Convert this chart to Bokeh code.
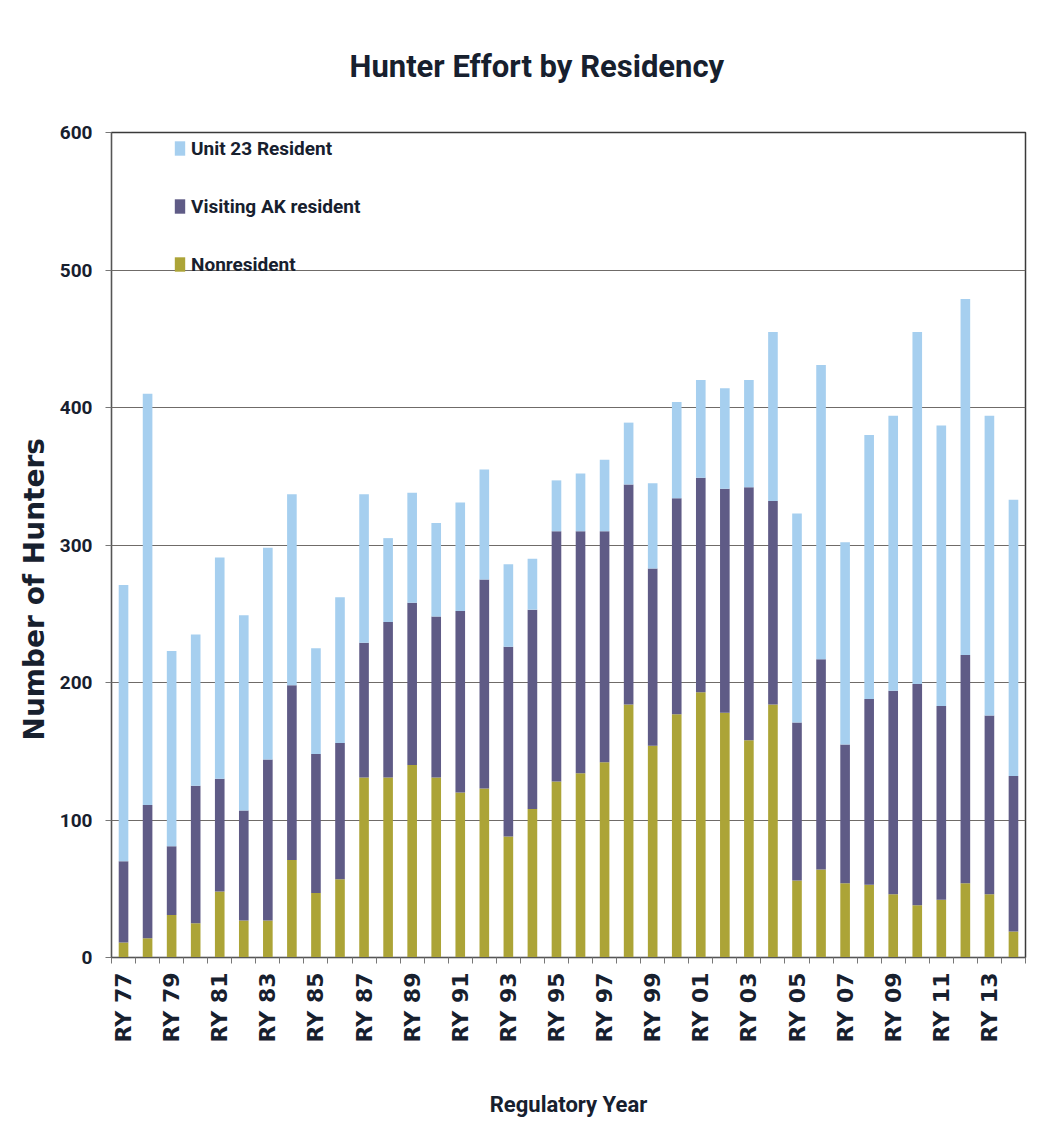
import math
from bokeh.plotting import figure
from bokeh.models import ColumnDataSource, FixedTicker, Legend, LegendItem, Range1d, Title
from bokeh.embed import file_html
from bokeh.resources import INLINE

# ---- data ----
years = ["RY 77", "RY 78", "RY 79", "RY 80", "RY 81", "RY 82", "RY 83", "RY 84", "RY 85", "RY 86",
         "RY 87", "RY 88", "RY 89", "RY 90", "RY 91", "RY 92", "RY 93", "RY 94", "RY 95", "RY 96",
         "RY 97", "RY 98", "RY 99", "RY 00", "RY 01", "RY 02", "RY 03", "RY 04", "RY 05", "RY 06",
         "RY 07", "RY 08", "RY 09", "RY 10", "RY 11", "RY 12", "RY 13", "RY 14"]
nonresident = [11, 14, 31, 25, 48, 27, 27, 71, 47, 57, 131, 131, 140, 131, 120, 123, 88, 108, 128, 134,
               142, 184, 154, 177, 193, 178, 158, 184, 56, 64, 54, 53, 46, 38, 42, 54, 46, 19]
visiting_ak = [59, 97, 50, 100, 82, 80, 117, 127, 101, 99, 98, 113, 118, 117, 132, 152, 138, 145, 182, 176,
               168, 160, 129, 157, 156, 163, 184, 148, 115, 153, 101, 135, 148, 161, 141, 166, 130, 113]
unit23_resident = [201, 299, 142, 110, 161, 142, 154, 139, 77, 106, 108, 61, 80, 68, 79, 80, 60, 37, 37, 42,
                   52, 45, 62, 70, 71, 73, 78, 123, 152, 214, 147, 192, 200, 256, 204, 259, 218, 201]
series_names = ["Nonresident", "Visiting AK resident", "Unit 23 Resident"]
y_ticks = [0, 100, 200, 300, 400, 500, 600]

colors = ["#aca437", "#5f5b86", "#a6cfef"]
NARROW = "Roboto"
TXT = "#17202e"

xs = list(range(len(years)))
source = ColumnDataSource(dict(x=xs, nonres=nonresident, visiting=visiting_ak, unit23=unit23_resident))

p = figure(width=1042, height=1129, output_backend="svg", toolbar_location=None,
           x_range=Range1d(-0.5, len(years) - 0.5), y_range=Range1d(0, 600),
           min_border_left=111, min_border_right=17, min_border_top=132, min_border_bottom=172,
           background_fill_color="white", border_fill_color="white")

renderers = p.vbar_stack(["nonres", "visiting", "unit23"], x="x", width=0.4, source=source,
                         color=colors, line_width=0)

# title
p.title.text = "Hunter Effort by Residency"
p.title.align = "left"
p.title.vertical_align = "top"
p.title.offset = 238
p.title.standoff = 92
p.title.text_font = NARROW
p.title.text_font_size = "31px"
p.title.text_font_style = "bold"
p.title.text_color = TXT

# y axis
p.yaxis.ticker = FixedTicker(ticks=y_ticks)
p.yaxis.major_label_text_font = NARROW
p.yaxis.major_label_text_font_style = "bold"
p.yaxis.major_label_text_font_size = "19px"
p.yaxis.major_label_text_color = TXT
p.yaxis.major_label_standoff = 13
p.yaxis.major_tick_out = 6
p.yaxis.major_tick_in = 0
p.yaxis.minor_tick_out = 0
p.yaxis.minor_tick_in = 0
p.yaxis.axis_line_color = "#555555"
p.yaxis.major_tick_line_color = "#777777"

ylab = Title(text="Number of Hunters", align="left", offset=217, standoff=12,
             text_font="DejaVu Sans", text_font_style="bold", text_font_size="28px",
             text_color=TXT)
p.add_layout(ylab, "left")

# x axis
major = xs[::2]
p.xaxis.ticker = FixedTicker(ticks=major, minor_ticks=[i - 0.5 for i in range(len(years) + 1)])
p.xaxis.major_label_overrides = {i: years[i] for i in major}
p.xaxis.major_label_orientation = math.pi / 2
p.xaxis.major_label_text_font = "DejaVu Sans"
p.xaxis.major_label_text_font_style = "bold"
p.xaxis.major_label_text_font_size = "22px"
p.xaxis.major_label_text_color = TXT
p.xaxis.major_label_standoff = 9
p.xaxis.major_tick_out = 0
p.xaxis.major_tick_in = 0
p.xaxis.minor_tick_out = 6
p.xaxis.minor_tick_in = 0
p.xaxis.minor_tick_line_color = "#777777"
p.xaxis.axis_line_color = "#555555"
p.xaxis.axis_label = "Regulatory Year"
p.xaxis.axis_label_text_font = NARROW
p.xaxis.axis_label_text_font_style = "bold"
p.xaxis.axis_label_text_font_size = "22px"
p.xaxis.axis_label_text_color = TXT
p.xaxis.axis_label_standoff = 47

# grid / outline
p.xgrid.visible = False
p.ygrid.ticker = FixedTicker(ticks=y_ticks)
p.ygrid.grid_line_color = "#6f6b68"
p.ygrid.grid_line_width = 1.2
p.outline_line_color = "#3a3a3a"
p.outline_line_width = 1.5

# legend (top entry first)
items = [LegendItem(label=series_names[i], renderers=[renderers[i]]) for i in (2, 1, 0)]
legend = Legend(items=items, location=(62, 678), orientation="vertical",
                background_fill_alpha=0, border_line_color=None,
                glyph_width=13, glyph_height=18, label_standoff=5,
                label_height=30, spacing=28, padding=0, margin=0,
                label_text_font=NARROW, label_text_font_style="bold",
                label_text_font_size="19px", label_text_color=TXT)
p.add_layout(legend, "center")

open("out.html", "w").write(file_html(p, INLINE))
